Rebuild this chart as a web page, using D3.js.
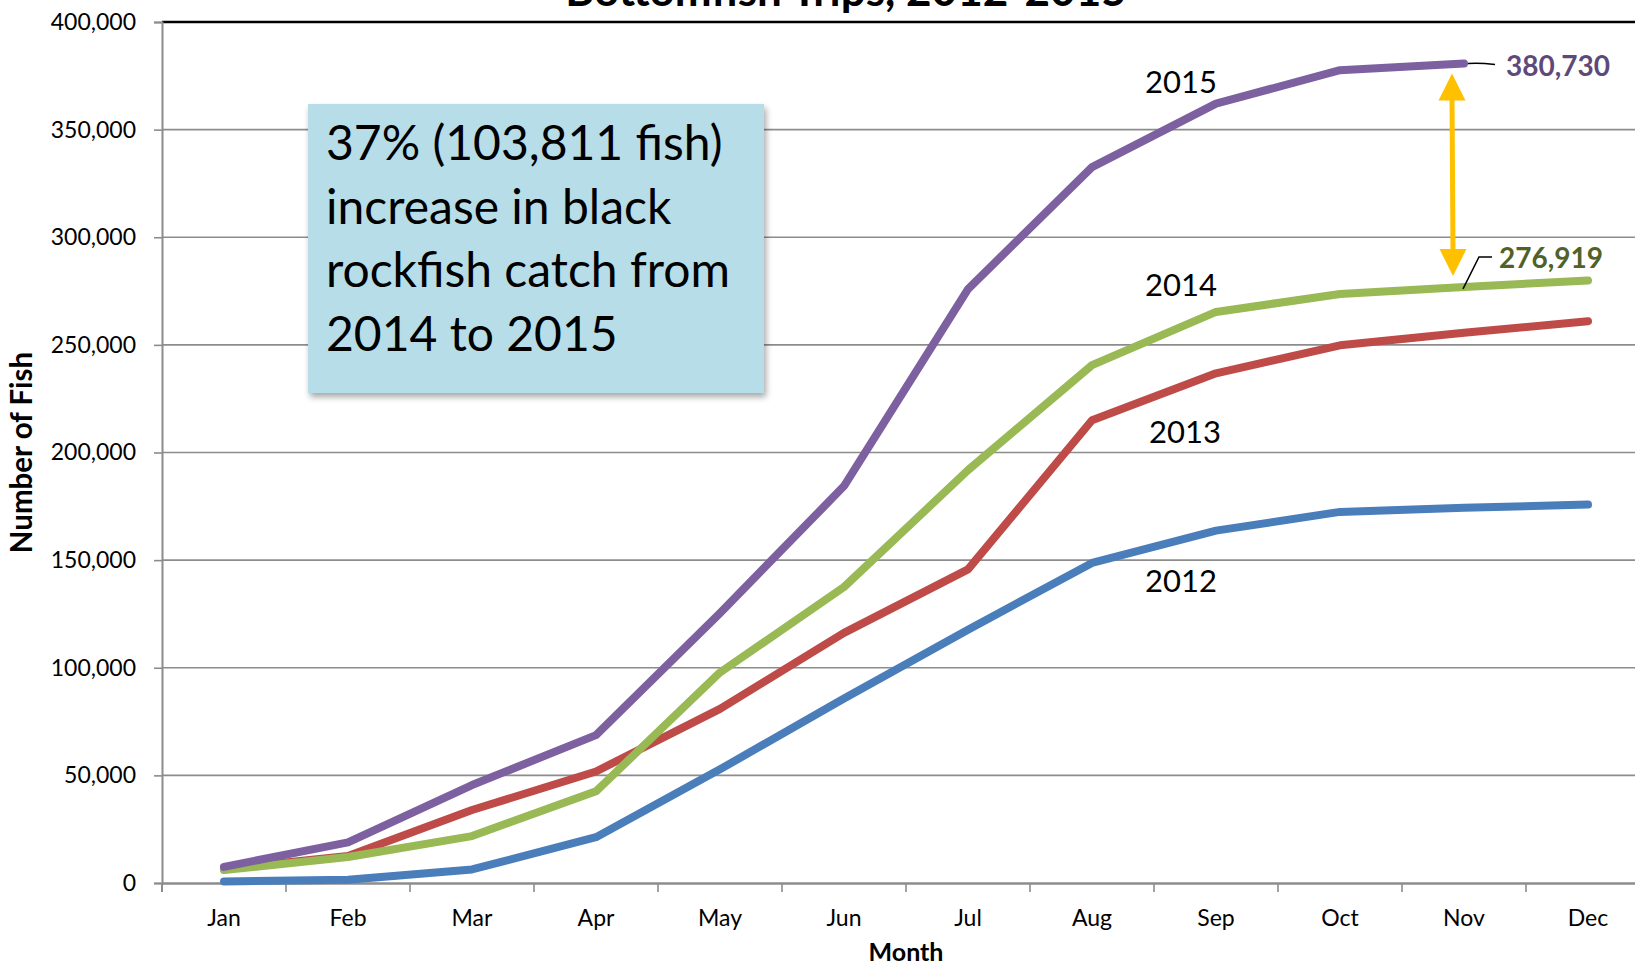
<!DOCTYPE html>
<html>
<head>
<meta charset="utf-8">
<script src="https://cdn.jsdelivr.net/npm/d3@7"></script>
<style>
  body { margin: 0; background: #fff; }
  text { font-family: Lato, "Open Sans", sans-serif; }
</style>
</head>
<body>
<div id="chart"></div>
<script>
// data
const months = ["Jan", "Feb", "Mar", "Apr", "May", "Jun", "Jul", "Aug", "Sep", "Oct", "Nov", "Dec"];
const years = ["2012", "2013", "2014", "2015"];
const catch2012 = [700, 1500, 6300, 21300, 52800, 85700, 117700, 148700, 163700, 172400, 174300, 175800];
const catch2013 = [6500, 12600, 33900, 51800, 80900, 116200, 145700, 215000, 236800, 249800, 255600, 261000];
const catch2014 = [6000, 12100, 21800, 42600, 97800, 137500, 191800, 240600, 265300, 273600, 276919, 279900];
const catch2015 = [7500, 18900, 45500, 68700, 125400, 184400, 275900, 332600, 362100, 377600, 380730];
const yTicks = [0, 50000, 100000, 150000, 200000, 250000, 300000, 350000, 400000];
const seriesColors = ["#4a7ebb", "#be4b48", "#98b954", "#7d60a0"];
const noteLines = ["37% (103,811 fish)", "increase in black", "rockfish catch from", "2014 to 2015"];

const W = 1635, H = 968;
const margin = { top: 22, left: 162, bottom: 85 };
const plotRight = 1650; // the original plot runs past the crop

const svg = d3.select("#chart")
    .append("svg")
    .attr("width", W)
    .attr("height", H);

svg.append("defs").append("filter")
    .attr("id", "shadow")
    .attr("x", "-10%").attr("y", "-10%").attr("width", "130%").attr("height", "130%")
    .append("feDropShadow")
    .attr("dx", 2).attr("dy", 4).attr("stdDeviation", 3)
    .attr("flood-color", "#000").attr("flood-opacity", 0.35);

const x = d3.scaleBand().domain(months).range([margin.left, plotRight]);
const cx = m => x(m) + x.bandwidth() / 2;
const y = d3.scaleLinear().domain([0, 400000]).range([H - margin.bottom, margin.top]);

// gridlines
svg.append("g")
    .selectAll("line")
    .data(yTicks.slice(1))
    .enter()
    .append("line")
    .attr("x1", margin.left).attr("x2", W)
    .attr("y1", d => y(d)).attr("y2", d => y(d))
    .attr("stroke", d => d === 400000 ? "#000" : "#8c8c8c")
    .attr("stroke-width", d => d === 400000 ? 2.5 : 1.6);

// y axis
const yAxis = svg.append("g")
    .attr("transform", `translate(${margin.left},0)`)
    .call(d3.axisLeft(y).tickValues(yTicks).tickFormat(d3.format(",")).tickSize(8).tickPadding(18));
yAxis.select(".domain").attr("stroke", "#8c8c8c").attr("stroke-width", 2);
yAxis.selectAll(".tick line").attr("stroke", "#8c8c8c").attr("stroke-width", 1.6);
yAxis.selectAll("text").attr("font-size", 23).attr("fill", "#000")
    .style("font-family", "Lato, sans-serif");
svg.append("line")
    .attr("x1", margin.left).attr("x2", margin.left)
    .attr("y1", y(0)).attr("y2", y(0) + 9)
    .attr("stroke", "#8c8c8c").attr("stroke-width", 2);

// x axis
const xAxis = svg.append("g")
    .attr("transform", `translate(0,${y(0)})`)
    .call(d3.axisBottom(x).tickSize(0).tickPadding(27));
xAxis.select(".domain").attr("stroke", "#8c8c8c").attr("stroke-width", 2.5);
xAxis.selectAll("text").attr("font-size", 23).attr("fill", "#000")
    .style("font-family", "Lato, sans-serif");
xAxis.selectAll(".edge")
    .data(months.slice(1))
    .enter()
    .append("line")
    .attr("class", "edge")
    .attr("x1", d => x(d)).attr("x2", d => x(d))
    .attr("y1", 0).attr("y2", 9)
    .attr("stroke", "#8c8c8c").attr("stroke-width", 1.6);

// axis titles
svg.append("text")
    .attr("x", (margin.left + plotRight) / 2)
    .attr("y", 961)
    .attr("text-anchor", "middle")
    .attr("font-size", 25)
    .attr("font-weight", "bold")
    .text("Month");

svg.append("text")
    .attr("transform", `translate(32,${(y(0) + y(400000)) / 2}) rotate(-90)`)
    .attr("text-anchor", "middle")
    .attr("font-size", 29.5)
    .attr("font-weight", "bold")
    .text("Number of Fish");

// chart title, cut off by the top edge
svg.append("text")
    .attr("x", 846)
    .attr("y", 6)
    .attr("text-anchor", "middle")
    .attr("font-size", 44)
    .attr("font-weight", "bold")
    .text("Bottomfish Trips, 2012-2015");

// lines
const line = d3.line()
    .x((d, i) => cx(months[i]))
    .y(d => y(d));

const allSeries = [catch2012, catch2013, catch2014, catch2015];
svg.append("g")
    .selectAll("path")
    .data(allSeries)
    .enter()
    .append("path")
    .attr("d", d => line(d))
    .attr("fill", "none")
    .attr("stroke", (d, i) => seriesColors[i])
    .attr("stroke-width", 8)
    .attr("stroke-linecap", "round")
    .attr("stroke-linejoin", "round");

// year labels
const yearLabelPos = [
    { year: "2012", x: 1181, y: 592 },
    { year: "2013", x: 1185, y: 443 },
    { year: "2014", x: 1181, y: 296 },
    { year: "2015", x: 1181, y: 93 }
];
svg.append("g")
    .selectAll("text")
    .data(yearLabelPos)
    .enter()
    .append("text")
    .attr("x", d => d.x)
    .attr("y", d => d.y)
    .attr("text-anchor", "middle")
    .attr("font-size", 31)
    .text(d => d.year);

// value callouts at Nov
const nov = cx("Nov");
const v2015 = catch2015[10], v2014 = catch2014[10];
svg.append("path")
    .attr("d", `M${nov + 4},${y(v2015)} Q${nov + 15},${y(v2015) - 1} ${nov + 31},${y(v2015) + 1}`)
    .attr("fill", "none").attr("stroke", "#000").attr("stroke-width", 1.5);
svg.append("text")
    .attr("x", 1506).attr("y", 76)
    .attr("font-size", 28).attr("font-weight", "bold")
    .attr("fill", "#5f497a")
    .text(d3.format(",")(v2015));

svg.append("path")
    .attr("d", `M${nov - 1},${y(v2014) + 2} L${nov + 15},${y(v2014) - 30} L${nov + 28},${y(v2014) - 30}`)
    .attr("fill", "none").attr("stroke", "#000").attr("stroke-width", 1.5);
svg.append("text")
    .attr("x", 1499).attr("y", 268)
    .attr("font-size", 28).attr("font-weight", "bold")
    .attr("fill", "#4f6228")
    .text(d3.format(",")(v2014));

// yellow double arrow
const ax = nov - 12;
const aTop = y(v2015) + 10, aBot = y(v2014) - 11;
const head = 27, half = 13.5;
svg.append("line")
    .attr("x1", ax).attr("x2", ax + 1)
    .attr("y1", aTop + head - 2).attr("y2", aBot - head + 2)
    .attr("stroke", "#ffc000").attr("stroke-width", 5);
svg.append("path")
    .attr("d", `M${ax},${aTop} L${ax - half},${aTop + head} L${ax + half},${aTop + head} Z`)
    .attr("fill", "#ffc000");
svg.append("path")
    .attr("d", `M${ax + 1},${aBot} L${ax + 1 - half},${aBot - head} L${ax + 1 + half},${aBot - head} Z`)
    .attr("fill", "#ffc000");

// note box
const note = svg.append("g");
note.append("rect")
    .attr("x", 308).attr("y", 104)
    .attr("width", 456).attr("height", 289)
    .attr("fill", "#b7dde8")
    .attr("filter", "url(#shadow)");
note.selectAll("text")
    .data(noteLines)
    .enter()
    .append("text")
    .attr("x", 326)
    .attr("y", (d, i) => 160 + i * 63.7)
    .attr("font-size", 48)
    .attr("fill", "#000")
    .text(d => d);
</script>
</body>
</html>
